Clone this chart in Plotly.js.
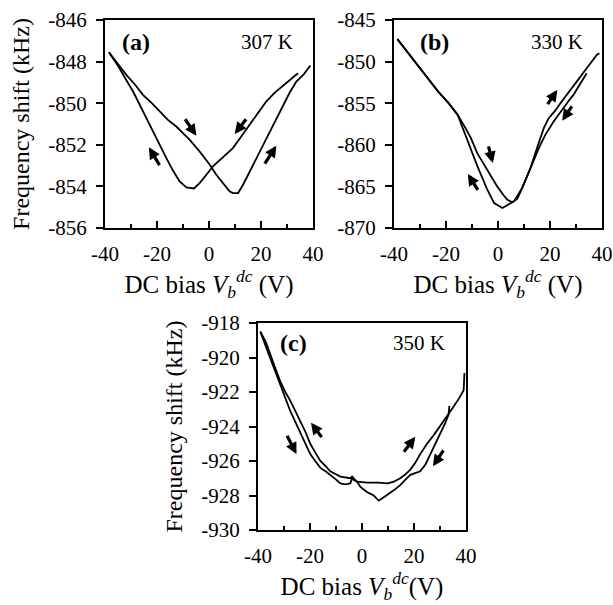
<!DOCTYPE html>
<html>
<head>
<meta charset="utf-8">
<script src="https://cdn.plot.ly/plotly-3.0.1.min.js"></script>
<style>html,body{margin:0;padding:0;background:#fff;}#chart{width:613px;height:605px;}</style>
</head>
<body>
<div id="chart"></div>
<script>
// ---------- DATA ----------
// (a) 307 K
var a_fwd_x = [-38.5, -35, -31.8, -28.5, -25.4, -22, -19, -15.8, -12.6, -10, -7.4, -3.6, 0.3, 2.8, 5.4, 7.9, 9.2, 11.2, 13.1, 15, 16.9, 18.8, 20.8, 22.7, 24.6, 26.5, 28.5, 31, 33.6, 36.5, 39];
var a_fwd_y = [-847.55, -848.1, -848.64, -849.1, -849.6, -850.0, -850.4, -850.8, -851.12, -851.45, -851.76, -852.32, -852.96, -853.44, -853.84, -854.24, -854.32, -854.32, -853.92, -853.45, -852.96, -852.5, -852.0, -851.5, -851.04, -850.55, -850.08, -849.5, -848.96, -848.6, -848.19];
var a_bwd_x = [34.2, 31.4, 28.5, 25.2, 22, 18.8, 15.6, 12.4, 9.2, 6.6, 4.1, 1.5, -1.0, -3.6, -5.8, -8.7, -11.3, -13.8, -16.4, -19.6, -22.8, -26, -29.2, -32, -35, -38.5];
var a_bwd_y = [-848.56, -848.85, -849.12, -849.5, -849.92, -850.5, -851.04, -851.6, -852.16, -852.45, -852.72, -853.04, -853.44, -853.84, -854.1, -854.05, -853.76, -853.25, -852.64, -851.85, -851.04, -850.2, -849.44, -848.85, -848.2, -847.55];
// (b) 330 K
var b_fwd_x = [-38.7, -35, -31, -27, -23, -19, -15.5, -12.5, -10.4, -8, -5.4, -3, -0.3, 2, 3.6, 5.5, 7.4, 8.7, 10.5, 12.5, 15, 17.6, 19.5, 22, 24, 26.5, 29, 31.5, 34.1, 36.5, 38, 39];
var b_fwd_y = [-847.3, -848.8, -850.4, -852.0, -853.6, -855.0, -856.4, -858.0, -859.2, -861.0, -862.4, -863.7, -865.0, -866.0, -866.6, -866.9, -866.5, -865.6, -864.3, -862.8, -860.4, -858.0, -856.8, -855.9, -855.0, -854.0, -853.0, -851.9, -850.8, -849.8, -849.2, -849.0];
var b_bwd_x = [34.1, 31.5, 29, 27, 25.2, 23.3, 21.4, 18.2, 15.7, 12.5, 9.3, 6.1, 2.9, 1.7, -1.5, -4.1, -7.9, -11.7, -15.5, -19, -23, -27, -31, -35, -38.7];
var b_bwd_y = [-851.4, -852.7, -854.0, -854.8, -855.6, -856.4, -857.2, -858.8, -860.4, -862.8, -865.2, -866.8, -867.4, -867.6, -867.0, -865.4, -862.6, -859.6, -856.4, -855.0, -853.6, -852.0, -850.4, -848.8, -847.3];
// (c) 350 K
var c_fwd_x = [-39.1, -37, -35.3, -33.4, -31.4, -29.5, -27.6, -25.6, -23.7, -21.8, -19.9, -18, -16, -14, -12.2, -10.2, -8.3, -6.4, -4.5, -3.8, -3.2, -1.9, 2, 6, 10, 12.2, 14.7, 16.5, 18.6, 20.5, 22.4, 25, 27.6, 30, 32.7, 35, 37.2, 39.1, 39.4];
var c_fwd_y = [-918.5, -919.3, -920.04, -920.8, -921.6, -922.35, -923.1, -923.75, -924.4, -925.0, -925.6, -926.0, -926.4, -926.6, -926.8, -927.05, -927.3, -927.35, -927.3, -927.0, -927.1, -927.2, -927.25, -927.25, -927.3, -927.2, -927.0, -926.8, -926.5, -926.1, -925.6, -925.0, -924.5, -924.0, -923.4, -922.9, -922.4, -921.9, -920.9];
var c_bwd_x = [33.6, 33.3, 32, 30.1, 28.2, 26.3, 24.4, 22.4, 20.5, 18.6, 16.6, 14.7, 12.2, 9.6, 8, 6.4, 4.5, 1.9, -0.6, -1.9, -3.8, -4.5, -6.4, -8.3, -10.2, -12.2, -14, -16, -18, -19.9, -21.8, -23.7, -25.6, -27.6, -29.5, -31.4, -33.4, -35.3, -37, -39.1];
var c_bwd_y = [-922.8, -923.3, -923.8, -924.4, -925.0, -925.6, -926.2, -926.6, -926.7, -926.8, -927.1, -927.4, -927.7, -928.0, -928.15, -928.3, -928.0, -927.8, -927.5, -927.2, -926.9, -927.0, -926.95, -926.9, -926.75, -926.6, -926.3, -926.0, -925.5, -925.0, -924.3, -923.7, -923.1, -922.5, -922.0, -921.4, -920.6, -919.8, -919.1, -918.5];

// sweep-direction arrows per panel: tail -> head
var a_arrow_tail_x = [-9.6, 14.7, -18.7, 21.1];
var a_arrow_tail_y = [-850.7, -850.7, -853.05, -852.98];
var a_arrow_head_x = [-4.85, 9.9, -23.1, 25.9];
var a_arrow_head_y = [-851.56, -851.48, -852.12, -852.04];
var b_arrow_tail_x = [-3.8, -7.4, 18.7, 28.8];
var b_arrow_tail_y = [-860.0, -865.6, -855.3, -855.2];
var b_arrow_head_x = [-2.0, -11.6, 22.8, 24.7];
var b_arrow_head_y = [-862.2, -863.5, -853.4, -857.1];
var c_arrow_tail_x = [-29.1, -15.1, 15.7, 31.7];
var c_arrow_tail_y = [-924.45, -924.7, -925.55, -925.3];
var c_arrow_head_x = [-25.2, -19.6, 20.5, 27.3];
var c_arrow_head_y = [-925.6, -923.78, -924.6, -926.3];

// tick labels
var x_tickvals = [-40, -20, 0, 20, 40];
var x_ticktext = ['-40', '-20', '0', '20', '40'];
var a_tickvals = [-856, -854, -852, -850, -848, -846];
var a_ticktext = ['-856', '-854', '-852', '-850', '-848', '-846'];
var b_tickvals = [-870, -865, -860, -855, -850, -845];
var b_ticktext = ['-870', '-865', '-860', '-855', '-850', '-845'];
var c_tickvals = [-930, -928, -926, -924, -922, -920, -918];
var c_ticktext = ['-930', '-928', '-926', '-924', '-922', '-920', '-918'];

// panel labels
var panel_labels = ['(a)', '(b)', '(c)'];
var temp_labels = ['307 K', '330 K', '350 K'];

// ---------- STYLE ----------
var FONT = '"Liberation Serif", "Times New Roman", Times, serif';
var line = {color: '#000', width: 1.8};

function tr(x, y, xa, ya) {
  return {x: x, y: y, xaxis: xa, yaxis: ya, type: 'scatter', mode: 'lines', line: line, hoverinfo: 'skip', showlegend: false};
}
var data = [
  tr(a_fwd_x, a_fwd_y, 'x', 'y'), tr(a_bwd_x, a_bwd_y, 'x', 'y'),
  tr(b_fwd_x, b_fwd_y, 'x2', 'y2'), tr(b_bwd_x, b_bwd_y, 'x2', 'y2'),
  tr(c_fwd_x, c_fwd_y, 'x3', 'y3'), tr(c_bwd_x, c_bwd_y, 'x3', 'y3')
];

var W = 613, H = 605;
function px(a, b) { return [a / W, b / W]; }
function py(top, bot) { return [1 - bot / H, 1 - top / H]; }

function xax(dom, anchor, titleText) {
  return {
    domain: dom, anchor: anchor, range: [-40, 40],
    tickvals: x_tickvals, ticktext: x_ticktext,
    ticks: 'inside', ticklen: 7, tickwidth: 2, tickcolor: '#000',
    minor: {dtick: 10, tick0: 0, ticks: 'inside', ticklen: 4, tickwidth: 2, tickcolor: '#000'},
    showline: true, linewidth: 2, linecolor: '#000', mirror: true,
    showgrid: false, zeroline: false,
    tickfont: {family: FONT, size: 21, color: '#000'},
    ticklabelstandoff: 6,
    title: {text: titleText, font: {family: FONT, size: 25, color: '#000'}, standoff: 2}
  };
}
function yax(dom, anchor, range, tv, tt, titleText) {
  return {
    domain: dom, anchor: anchor, range: range,
    tickvals: tv, ticktext: tt,
    ticks: 'outside', ticklen: 7, tickwidth: 2, tickcolor: '#000',
    showline: true, linewidth: 2, linecolor: '#000', mirror: true,
    showgrid: false, zeroline: false,
    tickfont: {family: FONT, size: 21, color: '#000'},
    ticklabelstandoff: 5,
    title: {text: titleText, font: {family: FONT, size: 24, color: '#000'}, standoff: 12}
  };
}

var xt1 = 'DC bias <i>V</i><sub><i>b</i></sub><sup><i>dc</i></sup> (V)';
var xt3 = 'DC bias <i>V</i><sub><i>b</i></sub><sup><i>dc</i></sup>(V)';
var yt = 'Frequency shift (kHz)';

var layout = {
  width: W, height: H,
  margin: {l: 0, r: 0, t: 0, b: 0},
  paper_bgcolor: '#fff', plot_bgcolor: '#fff',
  font: {family: FONT, color: '#000'},
  showlegend: false,
  xaxis: xax(px(105, 313), 'y', xt1),
  yaxis: yax(py(20, 228), 'x', [-856, -846], a_tickvals, a_ticktext, yt),
  xaxis2: xax(px(394, 602), 'y2', xt1),
  yaxis2: yax(py(20, 228), 'x2', [-870, -845], b_tickvals, b_ticktext, ''),
  xaxis3: xax(px(258, 466), 'y3', xt3),
  yaxis3: yax(py(323, 530), 'x3', [-930, -918], c_tickvals, c_ticktext, yt),
  annotations: []
};

// panel labels
var lab = [
  {xr: 'x', yr: 'y', px: -28, py: -847.07, tx: 22.4},
  {xr: 'x2', yr: 'y2', px: -24.5, py: -847.6, tx: 22.5},
  {xr: 'x3', yr: 'y3', px: -26.3, py: -919.15, tx: 21.8}
];
lab.forEach(function (l, i) {
  layout.annotations.push({xref: l.xr, yref: l.yr, x: l.px, y: l.py, text: '<b>' + panel_labels[i] + '</b>', showarrow: false,
    font: {family: FONT, size: 24, color: '#000'}, xanchor: 'center', yanchor: 'middle'});
  layout.annotations.push({xref: l.xr, yref: l.yr, x: l.tx, y: l.py, text: temp_labels[i], showarrow: false,
    font: {family: FONT, size: 21, color: '#000'}, xanchor: 'center', yanchor: 'middle'});
});

// direction arrows as annotation arrows built from the arrays
function addArrows(tx, ty, hx, hy, xr, yr) {
  for (var i = 0; i < tx.length; i++) {
    layout.annotations.push({xref: xr, yref: yr, axref: xr, ayref: yr, x: hx[i], y: hy[i], ax: tx[i], ay: ty[i],
      text: '', showarrow: true, arrowhead: 2, arrowsize: 0.72, arrowwidth: 3.2, arrowcolor: '#000', standoff: 0});
  }
}
addArrows(a_arrow_tail_x, a_arrow_tail_y, a_arrow_head_x, a_arrow_head_y, 'x', 'y');
addArrows(b_arrow_tail_x, b_arrow_tail_y, b_arrow_head_x, b_arrow_head_y, 'x2', 'y2');
addArrows(c_arrow_tail_x, c_arrow_tail_y, c_arrow_head_x, c_arrow_head_y, 'x3', 'y3');

Plotly.newPlot('chart', data, layout, {staticPlot: true, displayModeBar: false});
</script>
</body>
</html>
